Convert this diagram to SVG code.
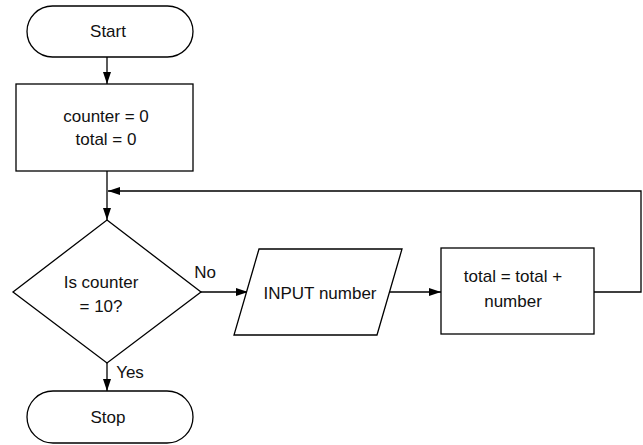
<svg xmlns="http://www.w3.org/2000/svg" width="643" height="445" viewBox="0 0 643 445">
<style>
.s{fill:#fff;stroke:#000;stroke-width:1.3}
.c{fill:none;stroke:#000;stroke-width:1.3}
text{font-family:"Liberation Sans",Arial,sans-serif;font-size:17px;fill:#111;text-anchor:middle}
</style>
<defs>
<marker id="a" markerWidth="12" markerHeight="8" refX="12" refY="4" orient="auto" markerUnits="userSpaceOnUse">
<path d="M0,0 L12,4 L0,8 Z" fill="#000"/>
</marker>
</defs>
<rect width="643" height="445" fill="#fff"/>
<g id="connectors">
<line class="c" x1="107" y1="57" x2="107" y2="84" marker-end="url(#a)"/>
<line class="c" x1="107" y1="171" x2="107" y2="220" marker-end="url(#a)"/>
<polyline class="c" points="594,292 641,292 641,191 108,191" marker-end="url(#a)"/>
<line class="c" x1="201" y1="292" x2="248" y2="292" marker-end="url(#a)"/>
<line class="c" x1="389" y1="292" x2="441" y2="292" marker-end="url(#a)"/>
<line class="c" x1="107" y1="363" x2="107" y2="391" marker-end="url(#a)"/>
<text x="205" y="278">No</text>
<text x="130" y="378">Yes</text>
</g>
<g id="start">
<rect class="s" x="27" y="6" width="166" height="51" rx="25.5"/>
<text x="108" y="37">Start</text>
</g>
<g id="init">
<rect class="s" x="16" y="84" width="177" height="87"/>
<text x="106" y="122">counter = 0</text>
<text x="106" y="145">total = 0</text>
</g>
<g id="decision">
<polygon class="s" points="107,220 201,292 107,363 13,292"/>
<text x="101" y="288">Is counter</text>
<text x="101" y="312">= 10?</text>
</g>
<g id="input">
<polygon class="s" points="259,249 402,249 377,335 234,335"/>
<text x="320" y="299">INPUT number</text>
</g>
<g id="add">
<rect class="s" x="441" y="248" width="153" height="86"/>
<text x="513" y="282">total = total +</text>
<text x="513" y="307">number</text>
</g>
<g id="stop">
<rect class="s" x="27" y="391" width="166" height="52" rx="26"/>
<text x="108" y="423">Stop</text>
</g>
</svg>
